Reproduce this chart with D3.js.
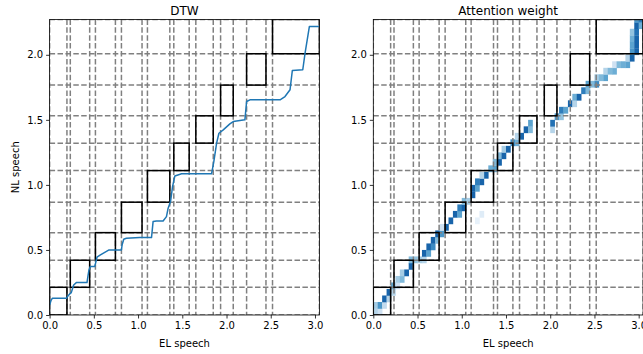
<!DOCTYPE html>
<html>
<head>
<meta charset="utf-8">
<script src="https://cdn.jsdelivr.net/npm/d3@7"></script>
<style>
  body { margin: 0; background: #fff; }
  svg { display: block; font-family: "DejaVu Sans", sans-serif; }
</style>
</head>
<body>
<div id="chart"></div>
<script>
// segment boundaries (seconds)
const elStarts = [0, 0.234, 0.518, 0.812, 1.106, 1.404, 1.653, 1.933, 2.227, 2.52];
const elEnds = [0.196, 0.453, 0.744, 1.045, 1.359, 1.578, 1.85, 2.076, 2.446, 3.05];
const nlBounds = [0, 0.213, 0.421, 0.633, 0.867, 1.11, 1.321, 1.531, 1.767, 2.008, 2.272];

// DTW path
const dtwX = [0, 0.015, 0.03, 0.19, 0.2, 0.225, 0.245, 0.272, 0.302, 0.423, 0.434, 0.445, 0.46, 0.51, 0.536, 0.57, 0.604, 0.672, 0.812, 0.82, 0.838, 0.868, 1.019, 1.152, 1.17, 1.208, 1.283, 1.321, 1.34, 1.367, 1.39, 1.416, 1.492, 1.831, 1.857, 1.888, 1.914, 1.963, 2.038, 2.076, 2.208, 2.227, 2.265, 2.605, 2.661, 2.718, 2.744, 2.862, 2.888, 2.937, 3.05];
const dtwY = [0.077, 0.11, 0.128, 0.128, 0.14, 0.16, 0.172, 0.231, 0.249, 0.249, 0.3, 0.346, 0.372, 0.372, 0.444, 0.46, 0.474, 0.5, 0.5, 0.54, 0.582, 0.59, 0.595, 0.595, 0.718, 0.723, 0.723, 0.756, 0.821, 0.872, 0.987, 1.069, 1.085, 1.085, 1.18, 1.321, 1.397, 1.423, 1.469, 1.487, 1.5, 1.641, 1.654, 1.654, 1.679, 1.731, 1.879, 1.885, 2.013, 2.218, 2.218];

// attention weight cells: [EL frame, NL frame, weight], frame = 0.05 s
const frame = 0.05;
const attnCells = [
  [0,0,.3],[1,0,.2],[0,1,.35],[1,1,.6],[2,1,.25],[2,2,.8],[3,2,.3],[3,3,.8],[4,3,.3],[4,4,.55],
  [5,4,.2],[5,5,.35],[6,5,.45],[6,6,.35],[7,6,.8],[8,7,.8],[8,8,.45],[9,8,.4],
  [10,8,.35],[11,8,.3],[11,9,.8],[12,9,.55],[12,10,.8],[13,10,.65],[13,11,.8],[14,11,.45],[14,12,.8],
  [15,12,.6],[15,13,.2],[16,13,.8],[17,14,.8],[18,15,.8],[19,15,.55],[19,16,.7],[20,16,.8],[20,17,.45],
  [21,17,.35],[22,18,.8],[22,19,.8],[23,19,.55],[23,20,.7],[24,20,.8],[25,21,.8],[24,21,.3],[24,15,.12],[23,14,.08],
  [26,22,.5],[27,22,.55],[27,23,.45],[28,23,.8],[28,24,.45],[29,24,.8],[29,25,.35],[30,25,.8],[31,26,.65],
  [32,26,.5],[32,27,.3],[33,27,.8],[34,28,.8],[35,28,.45],[35,29,.55],
  [40,28,.3],[40,29,.75],[41,30,.6],[42,30,.4],[42,31,.7],[43,31,.55],[44,32,.8],[45,32,.3],[45,33,.5],
  [46,33,.8],[47,34,.7],[48,34,.45],[48,35,.55],[49,35,.45],[50,35,.65],[50,36,.35],[51,36,.45],[52,36,.55],
  [52,37,.3],[53,37,.45],[54,37,.5],[54,38,.2],[55,38,.45],[56,38,.5],[57,38,.55],[57,39,.3],
  [58,39,.8],[58,40,.6],[59,40,.8],[58,41,.55],[59,41,.8],[58,42,.5],[59,42,.8],[58,43,.4],[59,43,.75],
  [59,44,.8],[60,44,.5],[59,45,.6],[60,45,.7]
];

const xTicks = [0, 0.5, 1.0, 1.5, 2.0, 2.5, 3.0];
const yTicks = [0, 0.5, 1.0, 1.5, 2.0];

const W = 643, H = 354;
const svg = d3.select("#chart").append("svg")
  .attr("width", W).attr("height", H);

const plotTop = 19.4, plotBottom = 315;

function panel(left, right, title, id) {
  const x = d3.scaleLinear().domain([0, 3.05]).range([left, right]);
  const y = d3.scaleLinear().domain([0, 2.272]).range([plotBottom, plotTop]);
  const g = svg.append("g");

  svg.append("clipPath").attr("id", id)
    .append("rect").attr("x", left).attr("y", plotTop)
    .attr("width", right - left).attr("height", plotBottom - plotTop);

  const plot = g.append("g").attr("clip-path", "url(#" + id + ")");

  return { x, y, g, plot, left, right, title };
}

function decorate(p) {
  const { x, y, g, plot, left, right, title } = p;

  // dashed segment boundaries
  const vLines = elStarts.concat(elEnds);
  plot.selectAll(".vl").data(vLines).enter().append("line")
    .attr("x1", d => x(d)).attr("x2", d => x(d))
    .attr("y1", plotTop).attr("y2", plotBottom)
    .attr("stroke", "#808080").attr("stroke-width", 1.5)
    .attr("stroke-dasharray", "5.5,2.4");
  plot.selectAll(".hl").data(nlBounds).enter().append("line")
    .attr("y1", d => y(d)).attr("y2", d => y(d))
    .attr("x1", left).attr("x2", right)
    .attr("stroke", "#808080").attr("stroke-width", 1.5)
    .attr("stroke-dasharray", "5.5,2.4");

  // boxes
  plot.selectAll(".box").data(elStarts).enter().append("rect")
    .attr("x", (d, i) => x(d))
    .attr("y", (d, i) => y(nlBounds[i + 1]))
    .attr("width", (d, i) => x(elEnds[i]) - x(d))
    .attr("height", (d, i) => y(nlBounds[i]) - y(nlBounds[i + 1]))
    .attr("fill", "none").attr("stroke", "#000").attr("stroke-width", 1.5);

  // axes
  const xa = g.append("g").attr("transform", "translate(0," + plotBottom + ")")
    .call(d3.axisBottom(x).tickValues(xTicks).tickFormat(d3.format(".1f")).tickSizeOuter(0).tickSize(3.5));
  const ya = g.append("g").attr("transform", "translate(" + left + ",0)")
    .call(d3.axisLeft(y).tickValues(yTicks).tickFormat(d3.format(".1f")).tickSizeOuter(0).tickSize(3.5));
  [xa, ya].forEach(a => {
    a.select(".domain").remove();
    a.selectAll("line").attr("stroke", "#000").attr("stroke-width", 0.8);
    a.selectAll("text").attr("font-size", 10).attr("fill", "#000")
      .attr("font-family", "DejaVu Sans, sans-serif");
  });
  xa.selectAll("text").attr("dy", "0.71em").attr("y", 6.5);
  ya.selectAll("text").attr("x", -6.5);

  g.append("rect").attr("x", left).attr("y", plotTop)
    .attr("width", right - left).attr("height", plotBottom - plotTop)
    .attr("fill", "none").attr("stroke", "#000").attr("stroke-width", 0.8);

  g.append("text").attr("x", (left + right) / 2).attr("y", 14.5)
    .attr("text-anchor", "middle").attr("font-size", 12).text(title);
  g.append("text").attr("x", (left + right) / 2).attr("y", 347)
    .attr("text-anchor", "middle").attr("font-size", 10).text("EL speech");
}

// left: DTW
const p1 = panel(49.6, 319.4, "DTW", "clipL");
decorate(p1);
p1.plot.append("path")
  .datum(dtwX.map((d, i) => [d, dtwY[i]]))
  .attr("fill", "none").attr("stroke", "#1f77b4").attr("stroke-width", 1.5)
  .attr("stroke-linejoin", "round")
  .attr("d", d3.line().x(d => p1.x(d[0])).y(d => p1.y(d[1])));
p1.g.append("text")
  .attr("transform", "translate(19," + ((plotTop + plotBottom) / 2) + ") rotate(-90)")
  .attr("text-anchor", "middle").attr("font-size", 10).text("NL speech");

// right: attention weight
const p2 = panel(373.3, 643.1, "Attention weight", "clipR");
const color = v => d3.interpolateBlues(v);
p2.plot.selectAll(".cell").data(attnCells).enter().append("rect")
  .attr("x", d => p2.x(d[0] * frame))
  .attr("y", d => p2.y((d[1] + 1) * frame))
  .attr("width", d => p2.x((d[0] + 1) * frame) - p2.x(d[0] * frame) + 0.3)
  .attr("height", d => p2.y(d[1] * frame) - p2.y((d[1] + 1) * frame) + 0.3)
  .attr("fill", d => color(d[2]));
decorate(p2);
</script>
</body>
</html>
